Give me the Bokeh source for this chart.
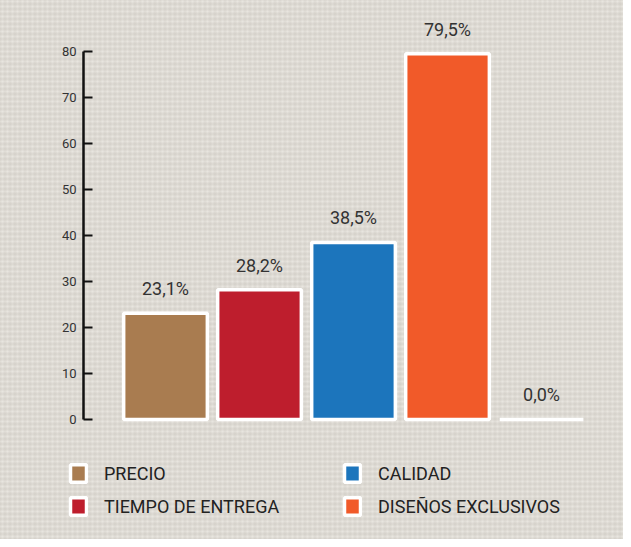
from bokeh.plotting import figure
from bokeh.models import Range1d, FixedTicker, ColumnDataSource, Legend, LegendItem
from bokeh.core.properties import value
from bokeh.embed import file_html
from bokeh.resources import INLINE

categories = ["PRECIO", "TIEMPO DE ENTREGA", "CALIDAD", "DISEÑOS EXCLUSIVOS", ""]
values = [23.1, 28.2, 38.5, 79.5, 0.0]
colors = ["#a97c50", "#be1e2d", "#1c75bc", "#f15a29", "#ffffff"]
y_ticks = [0, 10, 20, 30, 40, 50, 60, 70, 80]

FONT = "Roboto"
BG = "#e8e5df"

positions = list(range(len(values)))
labels = [f"{v:.1f}".replace(".", ",") + "%" for v in values]
src = ColumnDataSource(dict(x=positions, top=values, color=colors, label=labels))

p = figure(width=623, height=539, output_backend="svg", toolbar_location=None,
           x_range=Range1d(-1.117, 4.872), y_range=Range1d(-26.09, 91.09),
           x_axis_location=None, min_border_left=60, min_border_right=0,
           min_border_top=0, min_border_bottom=0)
# soft canvas-like weave behind the (transparent) plot
p.styles = {
    "background-color": BG,
    "background-image": (
        "repeating-linear-gradient(0deg, rgba(150,144,134,0.16) 0px, "
        "rgba(255,255,255,0) 2.5px, rgba(150,144,134,0.16) 5px), "
        "repeating-linear-gradient(90deg, rgba(150,144,134,0.12) 0px, "
        "rgba(255,255,255,0) 2.5px, rgba(150,144,134,0.12) 5px)"
    ),
}
p.background_fill_color = None
p.border_fill_color = None
p.outline_line_color = None
p.xgrid.visible = False
p.ygrid.visible = False

ax = p.yaxis[0]
ax.fixed_location = -0.872
ax.ticker = FixedTicker(ticks=y_ticks)
ax.bounds = (0, 80)
ax.axis_line_color = "#111111"
ax.axis_line_width = 2.5
ax.major_tick_line_color = "#111111"
ax.major_tick_line_width = 2
ax.major_tick_in = 9
ax.major_tick_out = 0
ax.minor_tick_line_color = None
ax.major_label_standoff = 7
ax.major_label_text_font = FONT
ax.major_label_text_font_size = "13px"
ax.major_label_text_color = "#333333"

bars = p.vbar(x="x", top="top", bottom=0, width=0.89, source=src,
              fill_color="color", line_color="white", line_width=3.5)

p.text(x="x", y="top", text="label", source=src, text_align="center",
       text_baseline="bottom", y_offset=-14, text_font=value(FONT),
       text_font_size="18px", text_color="#333333")

items = [LegendItem(label=categories[i], renderers=[bars], index=i) for i in range(4)]
legend = Legend(items=items, location=(8, 22), orientation="vertical", nrows=2,
                glyph_width=20, glyph_height=22, label_standoff=16, label_width=227,
                spacing=11, padding=0, margin=0, border_line_color=None,
                background_fill_alpha=0, label_text_font=FONT,
                label_text_font_size="18px", label_text_color="#222222",
                label_height=22)
p.add_layout(legend, "center")

open("out.html", "w").write(file_html(p, INLINE))
